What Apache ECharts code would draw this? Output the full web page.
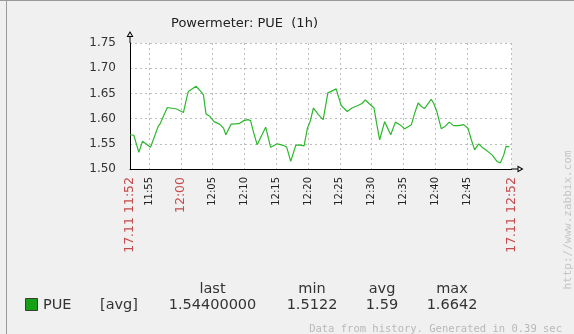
<!DOCTYPE html>
<html>
<head>
<meta charset="utf-8">
<title>Powermeter: PUE (1h)</title>
<script src="https://cdn.jsdelivr.net/npm/echarts@6/dist/echarts.min.js"></script>
<style>
  html, body { margin: 0; padding: 0; background: #f0f0f0; }
  #chart { width: 574px; height: 334px; }
</style>
</head>
<body>
<div id="chart"></div>
<script>
// Time offsets in minutes from 17.11 11:52, and PUE readings at those times
const minutes = [0, 0.6, 1.39, 1.97, 3.23, 4.45, 4.7, 5.24, 5.87, 7.34, 8.4, 8.92, 9.18, 10.38, 11.13, 11.55,
  11.96, 12.59, 13.22, 14.08, 14.71, 15.07, 15.91, 17.12, 17.91, 18.54, 18.97, 19.38, 20.01, 20.64, 21.34,
  22.12, 23.17, 24.11, 24.65, 25.28, 26.07, 26.59, 27.38, 27.9, 28.33, 28.85, 29.63, 30.38, 31.12, 31.64,
  32.43, 32.7, 33.22, 34.17, 34.91, 35.85, 36.48, 37.01, 37.68, 38.38, 38.74, 39.26, 40.05, 41.0, 41.74,
  42.42, 43.21, 44.26, 44.78, 45.32, 45.84, 46.31, 47.37, 47.74, 48.26, 48.95, 49.58, 50.21, 50.89, 51.68,
  52.47, 53.15, 53.68, 54.2, 54.84, 55.47, 56.15, 56.94, 57.72, 58.26, 58.78, 59.15, 59.68];
const pue = [1.568, 1.567, 1.533, 1.555, 1.543, 1.585, 1.589, 1.604, 1.622, 1.619, 1.612, 1.641, 1.654, 1.6642, 1.654, 1.647,
  1.609, 1.604, 1.594, 1.589, 1.581, 1.568, 1.589, 1.590, 1.596, 1.598, 1.596, 1.575, 1.548, 1.565, 1.583,
  1.543, 1.550, 1.547, 1.543, 1.515, 1.547, 1.548, 1.546, 1.581, 1.594, 1.621, 1.608, 1.598, 1.651, 1.654,
  1.659, 1.647, 1.626, 1.614, 1.621, 1.626, 1.630, 1.637, 1.629, 1.621, 1.594, 1.558, 1.594, 1.568, 1.593,
  1.588, 1.580, 1.588, 1.611, 1.631, 1.624, 1.620, 1.638, 1.631, 1.614, 1.580, 1.585, 1.593, 1.586, 1.586,
  1.588, 1.581, 1.558, 1.538, 1.550, 1.542, 1.536, 1.528, 1.515, 1.5122, 1.528, 1.545, 1.544];

// Time axis: labelled minutes (offsets from 11:52) and the start of the period
const xTicks = [0, 3, 8, 13, 18, 23, 28, 33, 38, 43, 48, 53, 60];
const startHour = 11, startMinute = 52, dateLabel = '17.11';

// Value axis
const yMin = 1.5, yMax = 1.75, yStep = 0.05;

// Legend row
const seriesName = 'PUE';
const seriesFunc = '[avg]';
const statNames = ['last', 'min', 'avg', 'max'];
const statValues = ['1.54400000', '1.5122', '1.59', '1.6642'];

const FONT = 'DejaVu Sans';
const MONO = 'DejaVu Sans Mono';

// hollow triangle arrow with a short stem, used at the end of both axes
const arrowPath = 'path://M3.5 0L7 6L0 6Z M3.5 2.1L1.7 5L5.3 5Z M3 6L4 6L4 12L3 12Z';

function timeLabel(v) {
  const total = startHour * 60 + startMinute + Math.round(v);
  const h = Math.floor(total / 60) % 24, m = total % 60;
  const hm = String(h).padStart(2, '0') + ':' + String(m).padStart(2, '0');
  if (v === xTicks[0] || v === xTicks[xTicks.length - 1]) return '{r|' + dateLabel + ' ' + hm + '}';
  if (m === 0) return '{r|' + hm + '}';
  return hm;
}

const chart = echarts.init(document.getElementById('chart'), null, { renderer: 'canvas' });

const statX = [212.5, 312, 382, 452];
const graphics = [
  // frame edges
  { type: 'rect', shape: { x: 0, y: 0, width: 574, height: 1 }, style: { fill: '#9a9a9a' }, silent: true },
  { type: 'rect', shape: { x: 6, y: 0, width: 1, height: 334 }, style: { fill: '#9a9a9a' }, silent: true },
  // legend swatch
  { type: 'rect', shape: { x: 25.5, y: 298.5, width: 12, height: 12 }, style: { fill: '#16a016', stroke: '#3a3a3a', lineWidth: 1 }, silent: true },
  { type: 'text', x: 43, y: 305, style: { text: seriesName, font: '14.5px "' + FONT + '"', fill: '#333', verticalAlign: 'middle' }, silent: true },
  { type: 'text', x: 100, y: 305, style: { text: seriesFunc, font: '14.5px "' + FONT + '"', fill: '#333', verticalAlign: 'middle' }, silent: true },
  // footer
  { type: 'text', x: 562, y: 329, style: { text: 'Data from history. Generated in 0.39 sec', font: '10.5px "' + MONO + '"', fill: '#b8b8b8', align: 'right', verticalAlign: 'middle' }, silent: true },
  // vertical site mark
  { type: 'text', x: 568, y: 220, rotation: Math.PI / 2, style: { text: 'http://www.zabbix.com', font: '11px "' + MONO + '"', fill: '#c4c4c4', align: 'center', verticalAlign: 'middle' }, silent: true }
];
statNames.forEach(function (name, i) {
  graphics.push({ type: 'text', x: statX[i], y: 289, style: { text: name, font: '14.5px "' + FONT + '"', fill: '#333', align: 'center', verticalAlign: 'middle' }, silent: true });
  graphics.push({ type: 'text', x: statX[i], y: 305, style: { text: statValues[i], font: '14.5px "' + FONT + '"', fill: '#333', align: 'center', verticalAlign: 'middle' }, silent: true });
});

chart.setOption({
  backgroundColor: '#f0f0f0',
  animation: false,
  textStyle: { fontFamily: FONT },
  title: {
    text: 'Powermeter: PUE  (1h)',
    left: 171, top: 17, padding: 0,
    textStyle: { fontFamily: FONT, fontSize: 13, fontWeight: 'normal', color: '#222' }
  },
  grid: {
    left: 130, right: 62.5, top: 43, bottom: 165,
    show: true, backgroundColor: '#ffffff', borderWidth: 0,
    containLabel: false
  },
  xAxis: {
    type: 'value', min: xTicks[0], max: xTicks[xTicks.length - 1],
    axisLine: {
      show: true, onZero: false,
      lineStyle: { color: '#000', width: 1 },
      symbol: ['none', arrowPath], symbolSize: [7, 12], symbolOffset: [0, 6]
    },
    axisTick: { show: false, customValues: xTicks },
    axisLabel: {
      customValues: xTicks, rotate: 90, margin: 8,
      fontFamily: FONT, fontSize: 10, color: '#222',
      formatter: timeLabel,
      rich: { r: { color: '#c44c4c', fontSize: 12.5, fontFamily: FONT } }
    },
    splitLine: { show: true, lineStyle: { color: '#bdbdbd', width: 1, type: [2, 3] } }
  },
  yAxis: {
    type: 'value', min: yMin, max: yMax, interval: yStep,
    axisLine: {
      show: true, onZero: false,
      lineStyle: { color: '#000', width: 1 },
      symbol: ['none', arrowPath], symbolSize: [7, 12], symbolOffset: [0, 6]
    },
    axisTick: { show: false },
    axisLabel: {
      margin: 14, fontFamily: FONT, fontSize: 12, color: '#333',
      formatter: function (v) { return v.toFixed(2); }
    },
    splitLine: { show: true, lineStyle: { color: '#bdbdbd', width: 1, type: [2, 3] } }
  },
  series: [{
    type: 'line', name: seriesName,
    data: minutes.map(function (t, i) { return [t, pue[i]]; }),
    showSymbol: false, symbol: 'none', smooth: false,
    lineStyle: { color: '#2cb82c', width: 1.2 },
    itemStyle: { color: '#2cb82c' }
  }],
  graphic: graphics
});
</script>
</body>
</html>
